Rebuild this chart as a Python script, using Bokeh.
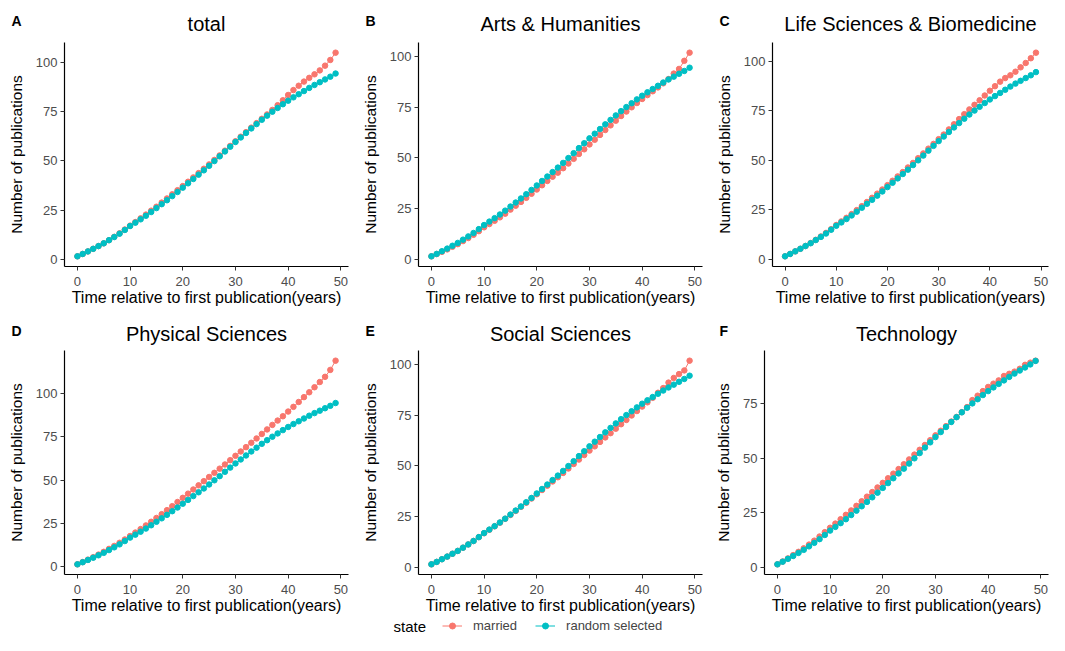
from bokeh.plotting import figure
from bokeh.models import Range1d, FixedTicker, Label, Legend, LegendItem
from bokeh.layouts import column, row
from bokeh.embed import file_html
from bokeh.resources import INLINE

years = list(range(50))
x_ticks = [0, 10, 20, 30, 40, 50]
y_ticks = [0, 25, 50, 75, 100]

random_selected = [1.5, 2.7, 4.0, 5.3, 6.7, 8.1, 9.7, 11.3, 13.0, 14.9,
                   16.9, 18.6, 20.3, 22.1, 24.0, 26.0, 28.0, 30.0, 32.1, 34.2,
                   36.4, 38.6, 40.8, 43.0, 45.2, 47.5, 49.9, 52.3, 54.8, 57.2,
                   59.6, 61.9, 64.2, 66.5, 68.7, 70.9, 73.0, 75.0, 76.9, 78.8,
                   80.6, 82.3, 83.9, 85.5, 87.1, 88.6, 90.0, 91.4, 92.8, 94.4]

married_total = [1.5, 2.7, 4.0, 5.3, 6.7, 8.1, 9.7, 11.4, 13.2, 15.1,
                 17.1, 18.9, 20.8, 22.7, 24.7, 26.7, 28.8, 30.9, 33.0, 35.1,
                 37.2, 39.4, 41.6, 43.8, 46.0, 48.2, 50.5, 52.8, 55.2, 57.6,
                 60.0, 62.3, 64.6, 66.9, 69.2, 71.4, 73.6, 75.9, 78.3, 80.8,
                 83.5, 86.0, 88.2, 90.3, 92.2, 94.0, 96.0, 98.4, 101.3, 105.0]

married_arts = [1.5, 2.6, 3.7, 4.9, 6.2, 7.5, 9.0, 10.5, 12.1, 13.9,
                15.8, 17.4, 19.0, 20.7, 22.5, 24.5, 26.4, 28.3, 30.3, 32.3,
                34.4, 36.5, 38.6, 40.7, 42.7, 44.9, 47.2, 49.5, 51.9, 54.2,
                56.6, 58.9, 61.3, 63.7, 66.0, 68.3, 70.6, 72.8, 74.9, 77.0,
                79.0, 80.9, 82.8, 84.7, 86.7, 88.8, 91.5, 93.8, 97.8, 101.8]

married_life = [1.5, 2.7, 4.0, 5.3, 6.7, 8.2, 9.8, 11.5, 13.3, 15.2,
                17.3, 19.1, 20.9, 22.8, 24.8, 26.8, 28.9, 31.0, 33.1, 35.2,
                37.4, 39.6, 41.8, 44.0, 46.3, 48.6, 51.0, 53.4, 55.8, 58.2,
                60.6, 62.9, 65.5, 68.1, 70.7, 73.2, 75.6, 77.9, 80.2, 82.6,
                85.0, 87.3, 89.6, 91.4, 92.8, 94.6, 96.8, 99.0, 101.4, 104.2]

married_physical = [1.5, 2.8, 4.2, 5.6, 7.1, 8.7, 10.4, 12.1, 13.9, 15.8,
                    17.8, 19.8, 21.8, 23.9, 26.0, 28.2, 30.4, 32.7, 35.0, 37.4,
                    39.8, 42.2, 44.6, 47.0, 49.4, 51.8, 54.2, 56.6, 59.0, 61.5,
                    64.0, 66.5, 69.0, 71.5, 74.0, 76.6, 79.2, 81.8, 84.3, 86.8,
                    89.5, 92.2, 95.0, 97.8, 100.6, 103.5, 106.5, 109.5, 113.5, 118.8]

married_social = [1.5, 2.7, 4.0, 5.3, 6.7, 8.1, 9.7, 11.3, 13.0, 14.9,
                  16.8, 18.5, 20.2, 22.0, 23.9, 25.8, 27.8, 29.8, 31.8, 33.9,
                  36.0, 38.1, 40.2, 42.3, 44.4, 46.5, 48.7, 50.9, 53.1, 55.3,
                  57.5, 59.6, 61.8, 64.0, 66.1, 68.3, 70.5, 72.6, 74.8, 77.0,
                  79.2, 81.3, 83.5, 86.0, 88.3, 91.0, 93.3, 95.2, 97.0, 101.8]

married_tech = [1.5, 2.8, 4.2, 5.7, 7.2, 8.8, 10.5, 12.3, 14.2, 16.2,
                18.2, 20.1, 22.1, 24.1, 26.1, 28.2, 30.3, 32.4, 34.5, 36.6,
                38.7, 40.8, 42.9, 45.0, 47.2, 49.4, 51.6, 53.8, 56.0, 58.2,
                60.4, 62.5, 64.6, 66.7, 68.8, 71.0, 73.3, 76.5, 78.5, 80.6,
                82.5, 84.0, 85.5, 87.5, 88.5, 89.5, 90.8, 92.6, 93.6, 94.5]

letters = ["A", "B", "C", "D", "E", "F"]
titles = ["total", "Arts & Humanities", "Life Sciences & Biomedicine",
          "Physical Sciences", "Social Sciences", "Technology"]
married_series = [married_total, married_arts, married_life,
                  married_physical, married_social, married_tech]
legend_labels = ["married", "random selected"]

RED = "#F8766D"
TEAL = "#00BFC4"
FONT = "Liberation Sans"
TOTAL_W = 1049
HEADER_H = 42
PLOT_H = 266


def bare(width, height):
    f = figure(width=width, height=height, output_backend="svg", toolbar_location=None,
               title=None, x_range=Range1d(-1000, -999), y_range=Range1d(-1000, -999),
               x_axis_location=None, y_axis_location=None, min_border=0)
    f.xgrid.visible = False
    f.ygrid.visible = False
    f.outline_line_color = None
    return f


def make_plot(married, width, left, right):
    ally = married + random_selected
    lo, hi = min(ally), max(ally)
    pad = (hi - lo) * 0.05
    xlo, xhi = min(years), max(years)
    xpad = (xhi - xlo) * 0.05
    p = figure(width=width, height=PLOT_H, output_backend="svg", toolbar_location=None, title=None,
               x_range=Range1d(xlo - xpad, xhi + xpad), y_range=Range1d(lo - pad, hi + pad),
               min_border_left=left, min_border_right=right,
               min_border_top=0, min_border_bottom=37)
    p.xgrid.visible = False
    p.ygrid.visible = False
    p.outline_line_color = None
    p.xaxis.ticker = FixedTicker(ticks=x_ticks)
    p.yaxis.ticker = FixedTicker(ticks=y_ticks)
    p.xaxis.axis_label = "Time relative to first publication(years)"
    p.yaxis.axis_label = "Number of publications"
    for ax in p.axis:
        ax.axis_line_color = "black"
        ax.axis_line_width = 1.2
        ax.major_tick_line_color = "#333333"
        ax.major_tick_out = 4
        ax.major_tick_in = 0
        ax.minor_tick_out = 0
        ax.minor_tick_in = 0
        ax.major_label_text_font = FONT
        ax.major_label_text_font_size = "13px"
        ax.major_label_text_color = "#4D4D4D"
        ax.axis_label_text_font = FONT
        ax.axis_label_text_font_style = "normal"
        ax.axis_label_text_color = "black"
    p.xaxis.axis_label_text_font_size = "16px"
    p.yaxis.axis_label_text_font_size = "15.5px"
    p.xaxis.major_label_standoff = 6
    p.xaxis.axis_label_standoff = 0
    p.yaxis.major_label_standoff = 3
    p.yaxis.axis_label_standoff = 8
    p.line(years, married, line_color=RED, line_width=1)
    p.scatter(years, married, size=5.5, fill_color=RED, line_color=RED)
    p.line(years, random_selected, line_color=TEAL, line_width=1)
    p.scatter(years, random_selected, size=5.5, fill_color=TEAL, line_color=TEAL)
    return p


widths = [354, 354, 341]
lefts = [[64, 64, 64], [64, 64, 56]]
rights = [6, 6, 1]
letter_dys = [20, 22]
title_dys = [23, 25]

blocks = []
for r in range(2):
    header = bare(TOTAL_W, HEADER_H)
    plots = []
    x0 = 0
    for c in range(3):
        i = r * 3 + c
        w, lft, rgt = widths[c], lefts[r][c], rights[c]
        fw = w - lft - rgt
        header.add_layout(Label(x=x0 + 11, y=HEADER_H - letter_dys[r], x_units="screen",
                                y_units="screen", text=letters[i], text_font=FONT,
                                text_font_size="14px", text_font_style="bold",
                                text_align="left", text_baseline="middle", text_color="black"))
        header.add_layout(Label(x=x0 + lft + fw / 2, y=HEADER_H - title_dys[r], x_units="screen",
                                y_units="screen", text=titles[i], text_font=FONT,
                                text_font_size="20px", text_font_style="normal",
                                text_align="center", text_baseline="middle", text_color="black"))
        plots.append(make_plot(married_series[i], w, lft, rgt))
        x0 += w
    blocks.append(header)
    blocks.append(row(*plots, spacing=0))

leg = bare(TOTAL_W, 19)
l1 = leg.line(years, married_total, line_color=RED, line_width=1)
s1 = leg.scatter(years, married_total, size=5.5, fill_color=RED, line_color=RED)
l2 = leg.line(years, random_selected, line_color=TEAL, line_width=1)
s2 = leg.scatter(years, random_selected, size=5.5, fill_color=TEAL, line_color=TEAL)
legend = Legend(items=[LegendItem(label=legend_labels[0], renderers=[l1, s1]),
                       LegendItem(label=legend_labels[1], renderers=[l2, s2])],
                orientation="horizontal", location=(442, 2))
legend.label_text_font = FONT
legend.label_text_font_size = "13px"
legend.label_standoff = 11
legend.glyph_width = 20
legend.glyph_height = 15
legend.spacing = 18
legend.padding = 0
legend.margin = 0
legend.border_line_color = None
legend.background_fill_alpha = 0
leg.add_layout(legend, "center")
leg.add_layout(Label(x=393, y=9.5, x_units="screen", y_units="screen", text="state",
                     text_font=FONT, text_font_size="15px", text_align="left",
                     text_baseline="middle", text_color="black"))
blocks.append(leg)

layout = column(*blocks, spacing=0)
open("out.html", "w").write(file_html(layout, INLINE))
